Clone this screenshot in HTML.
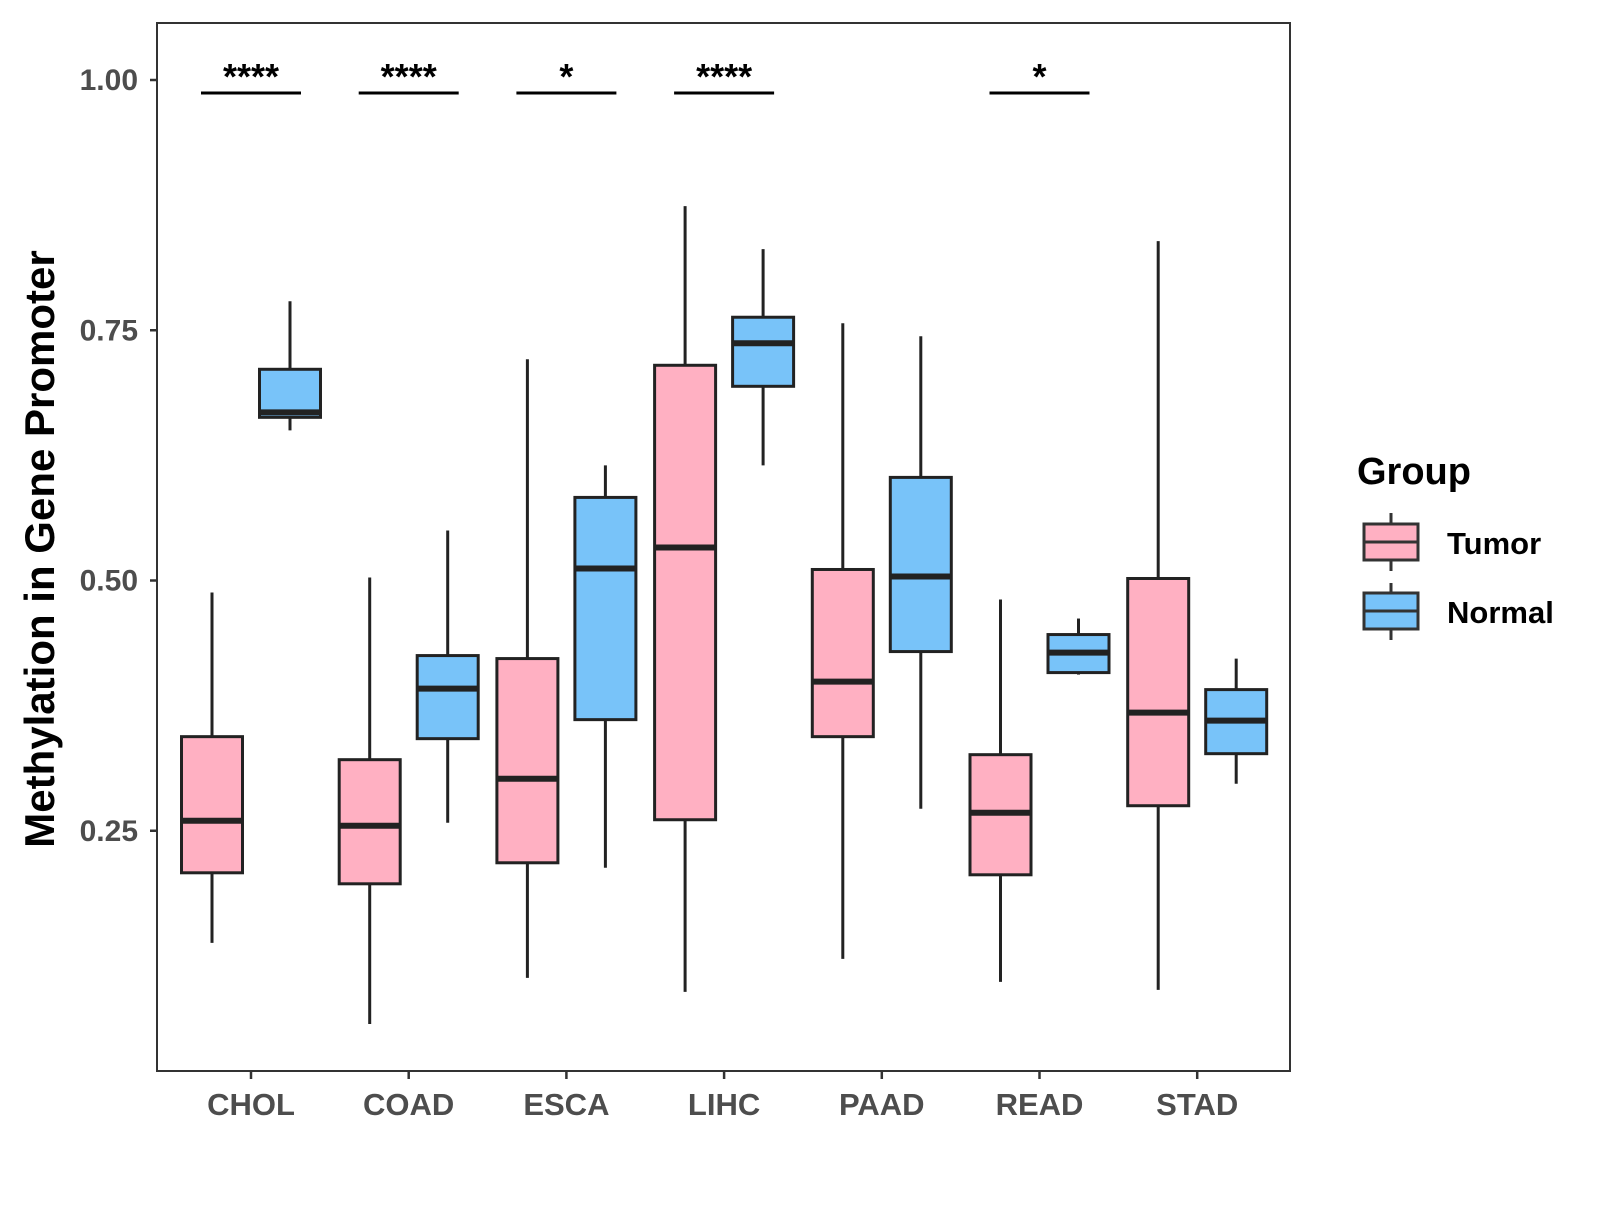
<!DOCTYPE html>
<html><head><meta charset="utf-8"><style>
body{margin:0;background:#fff;width:1600px;height:1200px;overflow:hidden}
svg{font-family:"Liberation Sans",Arial,sans-serif}
</style></head><body>
<svg id="chart" width="1600" height="1200">
<rect x="157" y="23" width="1133" height="1048" fill="#fff" stroke="#333" stroke-width="2"/>
<g id="marks"></g>
<text transform="translate(54,549) rotate(-90)" text-anchor="middle" font-size="42" font-weight="bold" fill="#000">Methylation in Gene Promoter</text>
<g>
<text x="1357" y="484" font-size="38" font-weight="bold">Group</text>
<g>
<line x1="1391" y1="513" x2="1391" y2="571" stroke="#333" stroke-width="3"/>
<rect x="1364" y="524" width="54" height="36" fill="#FFB0C2" stroke="#333" stroke-width="3"/>
<line x1="1364" y1="542" x2="1418" y2="542" stroke="#333" stroke-width="3"/>
<text x="1447" y="554" font-size="31" font-weight="bold">Tumor</text></g>
<g>
<line x1="1391" y1="583" x2="1391" y2="640" stroke="#333" stroke-width="3"/>
<rect x="1364" y="593" width="54" height="36" fill="#78C3F9" stroke="#333" stroke-width="3"/>
<line x1="1364" y1="611" x2="1418" y2="611" stroke="#333" stroke-width="3"/>
<text x="1447" y="623" font-size="31" font-weight="bold">Normal</text></g>
</g>
</svg>
<script>
const categories=["CHOL","COAD","ESCA","LIHC","PAAD","READ","STAD"];
// [whiskerHigh, q3, median, q1, whiskerLow]
const tumorStats=[[0.488,0.344,0.260,0.208,0.138],[0.503,0.321,0.255,0.197,0.057],[0.721,0.422,0.302,0.218,0.103],[0.874,0.715,0.533,0.261,0.089],[0.757,0.511,0.399,0.344,0.122],[0.481,0.326,0.268,0.206,0.099],[0.839,0.502,0.368,0.275,0.091]];
const normalStats=[[0.779,0.711,0.668,0.663,0.650],[0.550,0.425,0.392,0.342,0.258],[0.615,0.583,0.512,0.361,0.213],[0.831,0.763,0.737,0.694,0.615],[0.744,0.603,0.504,0.429,0.272],[0.462,0.446,0.428,0.408,0.406],[0.422,0.391,0.360,0.327,0.297]];
const signif=["****","****","*","****","","*",""];
const yTicks=[0.25,0.5,0.75,1.0];
const yTickLabels=["0.25","0.50","0.75","1.00"];
const NS="http://www.w3.org/2000/svg";
const g=document.getElementById('marks');
const xPos=i=>251+i*157.7;
const yPos=v=>80+(1-v)*1001;
function mk(t,a,p){const e=document.createElementNS(NS,t);for(const k in a)e.setAttribute(k,a[k]);(p||g).appendChild(e);return e;}
yTicks.forEach((v,i)=>{
  const t=mk('line',{x1:150,x2:157,y1:yPos(v),y2:yPos(v),stroke:'#333','stroke-width':2.5});
  
  
  const l=mk('text',{x:138,y:yPos(v)+10,'text-anchor':'end','font-size':30,'font-weight':'bold',fill:'#4d4d4d'});
  l.textContent=yTickLabels[i];
  
  
});
function box(s,cx,fill,name){
  const w=61,grp=mk('g',{});
  
  
  mk('line',{x1:cx,x2:cx,y1:yPos(s[0]),y2:yPos(s[4]),stroke:'#222','stroke-width':3},grp);
  mk('rect',{x:cx-w/2,y:yPos(s[1]),width:w,height:yPos(s[3])-yPos(s[1]),fill:fill,stroke:'#222','stroke-width':3},grp);
  mk('line',{x1:cx-w/2,x2:cx+w/2,y1:yPos(s[2]),y2:yPos(s[2]),stroke:'#222','stroke-width':6},grp);
}
categories.forEach((c,i)=>{
  const cx=xPos(i);
  box(tumorStats[i],cx-39,'#FFB0C2','box-tumor-'+c.toLowerCase());
  box(normalStats[i],cx+39,'#78C3F9','box-normal-'+c.toLowerCase());
  const t=mk('line',{x1:cx,x2:cx,y1:1071,y2:1079,stroke:'#333','stroke-width':2.5});
  
  
  const l=mk('text',{x:cx,y:1115,'text-anchor':'middle','font-size':31,'font-weight':'bold',fill:'#4d4d4d'});
  l.textContent=c;
  
  
  if(signif[i]){
    const b=mk('line',{x1:cx-50,x2:cx+50,y1:93,y2:93,stroke:'#000','stroke-width':3});
    
    
    const s=mk('text',{x:cx,y:89,'text-anchor':'middle','font-size':36,'font-weight':'bold',fill:'#000'});
    s.textContent=signif[i];
    
    
  }
});
</script>
</body></html>
